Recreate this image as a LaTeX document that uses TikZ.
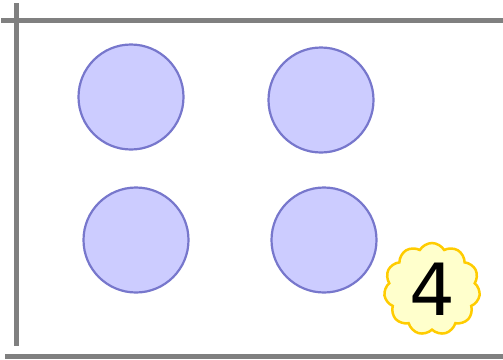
\documentclass[tikz,border=0pt]{standalone}
\usepackage{fontspec}
\newfontfamily\digitfont{DejaVu Sans}
\usetikzlibrary{shapes.symbols}
\definecolor{axisgray}{HTML}{808080}
\definecolor{circfill}{HTML}{CCCCFF}
\definecolor{circdraw}{HTML}{7777CC}
\definecolor{cloudfill}{HTML}{FFFFCC}
\definecolor{clouddraw}{HTML}{FFCC00}
\tikzset{
  axisline/.style={draw=axisgray, line width=5pt},
  ball/.style={circle, fill=circfill, draw=circdraw, line width=2.2pt, minimum size=105pt, inner sep=0pt},
  puff/.style={cloud, cloud puffs=11, cloud puff arc=120, aspect=1, fill=cloudfill, draw=clouddraw, line width=2.5pt, minimum width=96pt, minimum height=92pt, inner sep=0pt, font=\digitfont\fontsize{72}{72}\selectfont}
}
\begin{document}
\begin{tikzpicture}[x=1pt,y=-1pt]
\useasboundingbox (0,0) rectangle (503,359);
\coordinate (tl) at (1,20);
\coordinate (tr) at (503,20);
\coordinate (vt) at (16,3);
\coordinate (vb) at (16,346);
\coordinate (bl) at (5,356);
\coordinate (br) at (503,356);
\draw[axisline] (tl) -- (tr);
\draw[axisline] (vt) -- (vb);
\draw[axisline] (bl) -- (br);
\node[ball] (c1) at (131,97) {};
\node[ball] (c2) at (321,100) {};
\node[ball] (c3) at (136,240) {};
\node[ball] (c4) at (324,240) {};
\node[puff] (cl) at (432,289) {4};
\end{tikzpicture}
\end{document}
